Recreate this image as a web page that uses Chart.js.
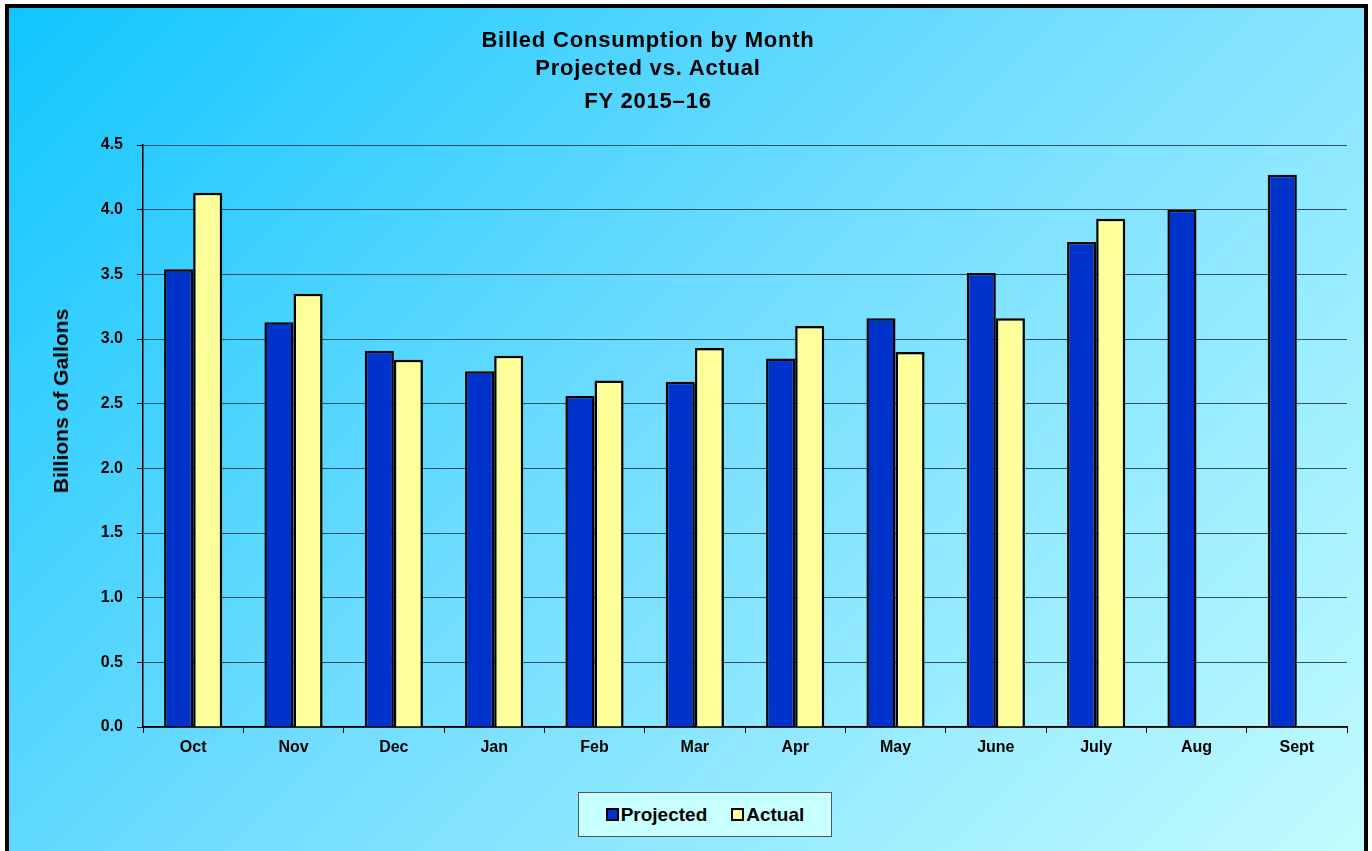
<!DOCTYPE html>
<html>
<head>
<meta charset="utf-8">
<script src="https://cdn.jsdelivr.net/npm/chart.js"></script>
<style>
  body { margin: 0; width: 1372px; height: 851px; overflow: hidden; background: #fff; font-family: "Liberation Sans", Arial, sans-serif; }
  #frame { position: absolute; left: 5px; top: 4px; width: 1355px; height: 900px; border: 4px solid #000;
           background: linear-gradient(135deg, #10c6ff 0%, #6fdcff 45%, #c6fdff 100%); }
  #wrap { position: absolute; left: 0; top: 0; width: 1372px; height: 851px; }
  .t { position: absolute; left: 398px; width: 500px; text-align: center; font-weight: bold; font-size: 22px; letter-spacing: 0.8px; color: #000;
       transform: translateY(-50%); white-space: nowrap; }
  #ytitle { position: absolute; left: 61px; top: 401px; transform: translate(-50%, -50%) rotate(-90deg); white-space: nowrap; font-weight: bold; font-size: 21px; }
  #legend { position: absolute; left: 578px; top: 792px; width: 252px; height: 43px; border: 1px solid #555; background: #c8ffff;
            display: flex; align-items: center; justify-content: center; font-weight: bold; font-size: 19px; }
  .sw { display: inline-block; width: 9px; height: 9px; border: 2px solid #000; margin-right: 2px; }
  .item { display: flex; align-items: center; margin: 0 12px; }
</style>
</head>
<body>
<div id="frame"></div>
<div id="wrap"><canvas id="myChart" width="1372" height="851"></canvas></div>
<div class="t" style="top:40px">Billed Consumption by Month</div>
<div class="t" style="top:68px">Projected vs. Actual</div>
<div class="t" style="top:101px">FY 2015–16</div>
<div id="ytitle">Billions of Gallons</div>
<div id="legend">
  <span class="item"><span class="sw" style="background:#0033cc"></span>Projected</span>
  <span class="item"><span class="sw" style="background:#ffff99"></span>Actual</span>
</div>
<script>
const months = ['Oct', 'Nov', 'Dec', 'Jan', 'Feb', 'Mar', 'Apr', 'May', 'June', 'July', 'Aug', 'Sept']
const projected = [3.54, 3.13, 2.91, 2.75, 2.56, 2.67, 2.85, 3.16, 3.51, 3.75, 4.00, 4.27]
const actual = [4.13, 3.35, 2.84, 2.87, 2.68, 2.93, 3.10, 2.90, 3.16, 3.93, null, null]
const yTicks = [0, 0.5, 1, 1.5, 2, 2.5, 3, 3.5, 4, 4.5]

const ctx = document.getElementById('myChart')

new Chart(ctx, {
  type: 'bar',
  data: {
    labels: months,
    datasets: [{
      label: 'Projected',
      data: projected,
      backgroundColor: '#0033cc',
      borderColor: '#000',
      borderWidth: 2.5,
      borderSkipped: 'bottom',
      categoryPercentage: 0.58,
      barPercentage: 1
    }, {
      label: 'Actual',
      data: actual,
      backgroundColor: '#ffff99',
      borderColor: '#000',
      borderWidth: 2.5,
      borderSkipped: 'bottom',
      categoryPercentage: 0.58,
      barPercentage: 1
    }]
  },
  options: {
    responsive: false,
    animation: false,
    layout: { padding: { left: 0, top: 145, right: 25, bottom: 0 } },
    plugins: { legend: { display: false }, title: { display: false }, tooltip: { enabled: false } },
    scales: {
      x: {
        afterFit: (s) => { s.height = 124 },
        border: { color: '#000', width: 1.5 },
        grid: { display: true, drawOnChartArea: false, offset: true, tickLength: 6, color: '#000' },
        ticks: { color: '#000', font: { family: 'Liberation Sans', size: 16, weight: 'bold' }, padding: 5, maxRotation: 0 }
      },
      y: {
        min: 0,
        max: 4.5,
        afterFit: (s) => { s.width = 143 },
        afterBuildTicks: (s) => { s.ticks = yTicks.map(v => ({ value: v })) },
        border: { color: '#000', width: 1.5 },
        grid: { color: 'rgba(35,65,75,0.9)', lineWidth: 1, tickLength: 6, tickColor: '#000' },
        ticks: { color: '#000', font: { family: 'Liberation Sans', size: 16, weight: 'bold' }, padding: 14,
                 callback: (v) => Number(v).toFixed(1) }
      }
    }
  }
})
</script>
</body>
</html>
